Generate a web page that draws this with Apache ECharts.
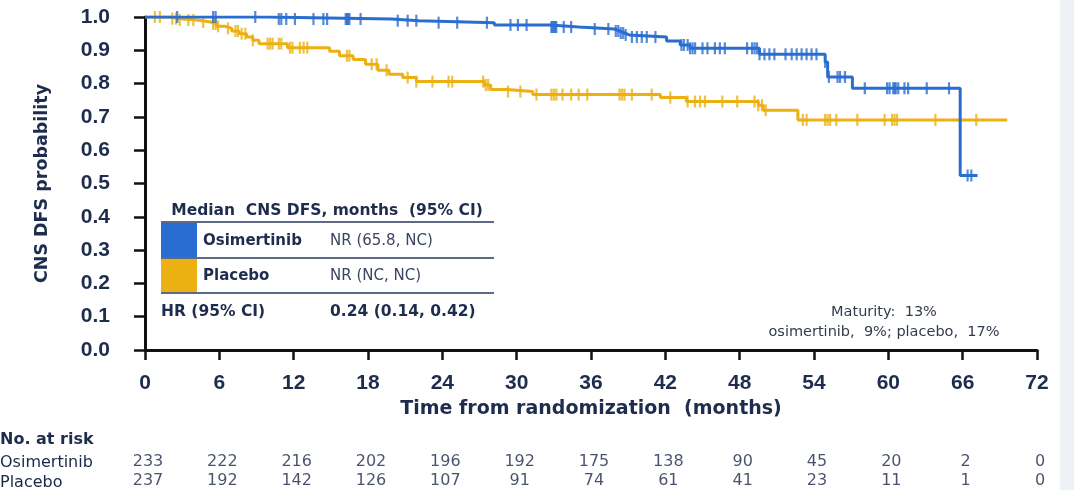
<!DOCTYPE html>
<html>
<head>
<meta charset="utf-8">
<script src="https://cdn.jsdelivr.net/npm/echarts@6/dist/echarts.min.js"></script>
<style>
html,body{margin:0;padding:0;background:#fff;}
#chart{width:1074px;height:490px;}
</style>
</head>
<body>
<div id="chart"></div>
<script>
// ---------- data ----------
const arms = ['Osimertinib', 'Placebo'];
const riskTimes = [0, 6, 12, 18, 24, 30, 36, 42, 48, 54, 60, 66, 72];
const riskOsim = [233, 222, 216, 202, 196, 192, 175, 138, 90, 45, 20, 2, 0];
const riskPlac = [237, 192, 142, 126, 107, 91, 74, 61, 41, 23, 11, 1, 0];

// Kaplan-Meier steps (time in months, survival probability after the step)
const osimStepT = [0, 9.8, 19.9, 22.1, 28.2, 32.7, 35.0, 37.9, 38.3, 38.7, 39.1, 42.1, 43.2, 44.0, 49.6, 54.9, 55.1, 57.1, 65.8];
const osimStepS = [1.0, 0.994, 0.989, 0.983, 0.976, 0.970, 0.964, 0.958, 0.952, 0.946, 0.940, 0.928, 0.916, 0.906, 0.888, 0.865, 0.820, 0.786, 0.524];
const osimEnd = 67.2;
const osimCensor = [2.6, 5.5, 5.7, 8.9, 10.8, 11.0, 11.4, 12.1, 13.6, 14.4, 14.7, 16.2, 16.3, 16.4, 16.5, 17.4, 20.4, 21.2, 21.9, 23.7, 25.2, 27.6, 29.5, 30.1, 30.8, 32.8, 32.9, 33.0, 33.1, 33.2, 33.8, 34.4, 36.3, 37.4, 38.0, 38.2, 38.4, 38.6, 38.8, 39.3, 39.7, 40.1, 40.5, 41.2, 43.3, 43.5, 43.8, 44.0, 44.2, 44.4, 45.0, 45.4, 46.0, 46.4, 46.8, 48.6, 49.0, 49.2, 49.4, 49.6, 50.0, 50.4, 50.8, 51.7, 52.2, 52.6, 53.0, 53.4, 53.8, 54.2, 54.9, 55.2, 55.9, 56.1, 56.5, 58.1, 59.9, 60.1, 60.4, 60.5, 60.6, 60.8, 61.3, 61.6, 63.1, 64.9, 66.4, 66.7];

const placStepT = [0, 2.0, 2.8, 4.2, 5.3, 5.8, 6.5, 7.0, 7.6, 8.2, 8.7, 9.2, 11.5, 14.9, 15.7, 16.8, 17.8, 18.8, 19.7, 20.8, 21.9, 27.4, 27.9, 29.2, 31.3, 41.6, 43.7, 49.5, 49.9, 52.7];
const placStepS = [1.0, 0.995, 0.991, 0.985, 0.979, 0.972, 0.966, 0.958, 0.950, 0.940, 0.930, 0.920, 0.908, 0.897, 0.884, 0.872, 0.858, 0.840, 0.828, 0.818, 0.806, 0.796, 0.782, 0.776, 0.767, 0.758, 0.746, 0.735, 0.720, 0.691];
const placEnd = 69.6;
const placCensor = [0.8, 1.2, 2.2, 2.5, 2.8, 3.5, 3.9, 4.7, 5.5, 5.7, 5.9, 6.7, 7.3, 7.5, 7.8, 8.1, 8.7, 9.9, 10.1, 10.3, 10.8, 11.0, 11.7, 11.9, 12.5, 12.8, 13.1, 16.3, 16.5, 18.3, 18.7, 19.5, 21.2, 21.9, 23.2, 24.5, 24.8, 27.3, 27.5, 27.7, 29.3, 30.3, 31.6, 32.8, 33.0, 33.2, 33.7, 34.4, 35.0, 35.7, 38.3, 38.5, 38.7, 39.3, 40.9, 42.4, 43.8, 44.4, 44.8, 45.2, 46.6, 47.8, 49.2, 49.5, 49.8, 50.1, 53.1, 53.4, 54.9, 55.1, 55.3, 55.8, 57.5, 59.7, 60.3, 60.5, 60.7, 63.8, 67.1];

// ---------- helpers ----------
function kmLine(ts, ss, end) {
  const d = ts.map((t, i) => [t, ss[i]]);
  d.push([end, ss[ss.length - 1]]);
  return d;
}
function sAt(ts, ss, t) {
  let v = ss[0];
  for (let i = 0; i < ts.length; i++) if (ts[i] <= t) v = ss[i];
  return v;
}
function censorPts(cs, ts, ss) { return cs.map(t => [t, sAt(ts, ss, t)]); }

const BLUE = '#2a6dd0';
const GOLD = '#ebb012';
const NAVY = '#1e2d4e';
const FONT = 'DejaVu Sans';
const TICKFONT = 'Liberation Sans';

const chart = echarts.init(document.getElementById('chart'), null, {renderer: 'canvas'});

const riskData = [];
riskTimes.forEach((t, i) => {
  riskData.push([t, arms[0], riskOsim[i]]);
  riskData.push([t, arms[1], riskPlac[i]]);
});

const option = {
  animation: false,
  backgroundColor: '#ffffff',
  grid: [
    {left: 145, right: 37, top: 17, bottom: 140, containLabel: false},
    {left: 145, right: 37, top: 453, height: 40, containLabel: false}
  ],
  xAxis: [
    {
      gridIndex: 0, type: 'value', min: 0, max: 72, interval: 6,
      name: 'Time from randomization  (months)', nameLocation: 'middle', nameGap: 50,
      nameTextStyle: {fontFamily: FONT, fontWeight: 'bold', fontSize: 19, color: NAVY},
      axisLine: {show: true, onZero: false, lineStyle: {color: '#111', width: 3}},
      axisTick: {show: true, length: 10, lineStyle: {color: '#111', width: 2.5}},
      axisLabel: {margin: 23, fontFamily: TICKFONT, fontWeight: 'bold', fontSize: 21, color: NAVY},
      splitLine: {show: false}
    },
    {
      gridIndex: 1, type: 'value', min: 0, max: 72, interval: 6, show: false
    }
  ],
  yAxis: [
    {
      gridIndex: 0, type: 'value', min: 0, max: 1, interval: 0.1,
      name: 'CNS DFS probability', nameLocation: 'middle', nameGap: 94,
      nameTextStyle: {fontFamily: FONT, fontWeight: 'bold', fontSize: 17.5, color: NAVY},
      axisLine: {show: true, lineStyle: {color: '#111', width: 3}},
      axisTick: {show: true, length: 11, lineStyle: {color: '#111', width: 2.5}},
      axisLabel: {margin: 35, fontFamily: TICKFONT, fontWeight: 'bold', fontSize: 21, color: NAVY,
        formatter: v => v.toFixed(1)},
      splitLine: {show: false}
    },
    {
      gridIndex: 1, type: 'category', data: arms, inverse: true, show: false
    }
  ],
  series: [
    {
      name: 'Placebo', type: 'line', xAxisIndex: 0, yAxisIndex: 0, step: 'end',
      data: kmLine(placStepT, placStepS, placEnd), showSymbol: false,
      lineStyle: {color: GOLD, width: 3}, z: 2
    },
    {
      name: 'Placebo censored', type: 'scatter', xAxisIndex: 0, yAxisIndex: 0,
      data: censorPts(placCensor, placStepT, placStepS),
      symbol: 'rect', symbolSize: [2.2, 12], itemStyle: {color: GOLD}, z: 3
    },
    {
      name: 'Osimertinib', type: 'line', xAxisIndex: 0, yAxisIndex: 0, step: 'end',
      data: kmLine(osimStepT, osimStepS, osimEnd), showSymbol: false,
      lineStyle: {color: BLUE, width: 3}, z: 4
    },
    {
      name: 'Osimertinib censored', type: 'scatter', xAxisIndex: 0, yAxisIndex: 0,
      data: censorPts(osimCensor, osimStepT, osimStepS),
      symbol: 'rect', symbolSize: [2.2, 12], itemStyle: {color: BLUE}, z: 5
    },
    {
      name: 'No. at risk', type: 'scatter', xAxisIndex: 1, yAxisIndex: 1,
      data: riskData, symbolSize: 1, itemStyle: {color: 'transparent'},
      label: {show: true, position: 'inside', offset: [3, 0], formatter: p => String(p.value[2]),
        fontFamily: FONT, fontSize: 16, color: '#1b2747'},
      silent: true
    }
  ],
  graphic: [
    {type: 'rect', shape: {x: 1060, y: 0, width: 14, height: 490}, style: {fill: '#eef1f5'}, silent: true},
    // inset table
    {type: 'text', style: {text: 'Median  CNS DFS, months  (95% CI)', x: 327, y: 211, textAlign: 'center', textVerticalAlign: 'middle',
      font: 'bold 15.5px "DejaVu Sans"', fill: NAVY}},
    {type: 'line', shape: {x1: 161, y1: 222, x2: 494, y2: 222}, style: {stroke: '#5d6a86', lineWidth: 2}},
    {type: 'rect', shape: {x: 161, y: 223, width: 36, height: 34}, style: {fill: BLUE}},
    {type: 'text', style: {text: 'Osimertinib', x: 203, y: 241, textVerticalAlign: 'middle', font: 'bold 15px "DejaVu Sans"', fill: NAVY}},
    {type: 'text', style: {text: 'NR (65.8, NC)', x: 330, y: 241, textVerticalAlign: 'middle', font: '15px "DejaVu Sans"', fill: '#3a4660'}},
    {type: 'line', shape: {x1: 161, y1: 258, x2: 494, y2: 258}, style: {stroke: '#5d6a86', lineWidth: 2}},
    {type: 'rect', shape: {x: 161, y: 259, width: 36, height: 33}, style: {fill: GOLD}},
    {type: 'text', style: {text: 'Placebo', x: 203, y: 276, textVerticalAlign: 'middle', font: 'bold 15px "DejaVu Sans"', fill: NAVY}},
    {type: 'text', style: {text: 'NR (NC, NC)', x: 330, y: 276, textVerticalAlign: 'middle', font: '15px "DejaVu Sans"', fill: '#3a4660'}},
    {type: 'line', shape: {x1: 161, y1: 293, x2: 494, y2: 293}, style: {stroke: '#5d6a86', lineWidth: 2}},
    {type: 'text', style: {text: 'HR (95% CI)', x: 161, y: 312, textVerticalAlign: 'middle', font: 'bold 15.5px "DejaVu Sans"', fill: NAVY}},
    {type: 'text', style: {text: '0.24 (0.14, 0.42)', x: 330, y: 312, textVerticalAlign: 'middle', font: 'bold 15.5px "DejaVu Sans"', fill: NAVY}},
    // maturity note
    {type: 'text', style: {text: 'Maturity:  13%', x: 884, y: 312, textAlign: 'center', textVerticalAlign: 'middle', font: '14.5px "DejaVu Sans"', fill: '#333b4c'}},
    {type: 'text', style: {text: 'osimertinib,  9%; placebo,  17%', x: 884, y: 332, textAlign: 'center', textVerticalAlign: 'middle', font: '14.5px "DejaVu Sans"', fill: '#333b4c'}},
    // at-risk labels
    {type: 'text', style: {text: 'No. at risk', x: 0, y: 440, textVerticalAlign: 'middle', font: 'bold 16px "DejaVu Sans"', fill: NAVY}},
    {type: 'text', style: {text: arms[0], x: 0, y: 463, textVerticalAlign: 'middle', font: '16px "DejaVu Sans"', fill: '#1b2747'}},
    {type: 'text', style: {text: arms[1], x: 0, y: 483, textVerticalAlign: 'middle', font: '16px "DejaVu Sans"', fill: '#1b2747'}}
  ]
};
chart.setOption(option);
</script>
</body>
</html>
